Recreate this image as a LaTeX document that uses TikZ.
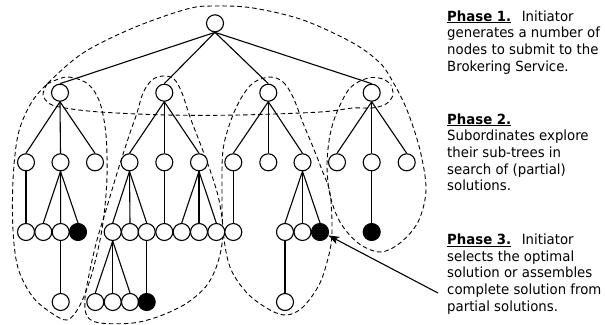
\documentclass[tikz,border=0pt]{standalone}
\usepackage{fontspec}
\setmainfont{DejaVu Sans}[FakeStretch=0.95]
\usetikzlibrary{arrows.meta}
\begin{document}
\begin{tikzpicture}[x=1pt,y=-1pt,
  wn/.style={circle,draw,fill=white,line width=1.1pt,minimum size=17pt,inner sep=0pt},
  bn/.style={wn,fill=black},
  ln/.style={line width=1.1pt},
  region/.style={line width=0.9pt,dash pattern=on 4.5pt off 3pt},
  txt/.style={anchor=base west,inner sep=0pt,font=\fontsize{14}{16.7}\selectfont},
  ptr/.style={line width=1.1pt,-{Stealth[length=11pt,width=8pt,inset=3pt]}}]
\useasboundingbox (0,0) rectangle (605,324);

% ---------- dashed regions ----------
% L1a region + big Phase-1 arc + L1d region
\draw[region] plot[smooth,tension=0.55] coordinates {
  (47,84) (67,77) (88,84) (100,103) (106,135) (107,177) (104,215) (99,245)
  (90,280) (79,307) (67,320) (50,312) (32,296) (18,268) (13,230) (13,180)
  (18,135) (30,105) (47,84) (83,53) (133,28) (187,9) (215,6) (253,8)
  (303,20) (353,43) (380,63) (393,82) (407,110) (420,150) (426,190)
  (418,222) (400,243) (380,252) (358,243) (340,222) (330,195) (327,165)
  (330,135) (337,112) (350,88) (368,78) (383,79) (391,85)};
% Phase-1 bottom boundary
\draw[region] plot[smooth,tension=0.55] coordinates {
  (47,84) (43,95) (50,104) (65,108) (100,112) (167,115) (240,115)
  (320,112) (353,108) (372,108) (386,104) (393,95) (391,85)};
% L1b region
\draw[region] plot[smooth cycle,tension=0.55] coordinates {
  (163,76) (174,79) (182,93) (190,117) (200,143) (210,170) (219,200)
  (223,233) (218,262) (207,285) (187,303) (160,316) (133,323) (100,323)
  (87,316) (85,298) (90,270) (97,240) (106,210) (118,170) (130,133)
  (137,113) (143,93) (152,80)};
% L1c region
\draw[region] plot[smooth cycle,tension=0.55] coordinates {
  (270,77) (283,82) (293,97) (303,123) (313,147) (322,170) (330,193)
  (332,227) (330,250) (320,283) (303,307) (287,315) (270,310) (247,293)
  (230,267) (223,230) (222,187) (223,150) (230,123) (240,100) (253,83)};

% ---------- tree nodes ----------
\node[wn] (r) at (215,23.3) {};
\node[wn] (A) at (60,92.7) {};
\node[wn] (B) at (164.3,92.7) {};
\node[wn] (C) at (268.3,92.7) {};
\node[wn] (D) at (371.7,92.7) {};
\foreach \n/\x in {A1/26,A2/60.5,A3/95,B1/129.5,B2/164.3,B3/199,
                   C1/233.3,C2/268.3,C3/302.5,D1/337,D2/371.7,D3/406.7}
  \node[wn] (\n) at (\x,162.3) {};
\foreach \n/\x in {A11/26,A21/43.3,A22/60.7,B11/112.7,B12/130,B13/146.7,
                   B21/164.3,B31/181.7,B32/199,B33/216.3,C11/233.3,
                   C31/285,C32/302.5}
  \node[wn] (\n) at (\x,232) {};
\node[bn] (A23) at (78,232) {};
\node[bn] (C33) at (320,232) {};
\node[bn] (D21) at (371.7,232) {};
\foreach \n/\x in {A221/60.7,B111/95.3,B112/112.7,B113/130,C311/285}
  \node[wn] (\n) at (\x,302) {};
\node[bn] (B131) at (146.7,302) {};

% ---------- tree edges ----------
\foreach \p/\c in {r/A,r/B,r/C,r/D,
  A/A1,A/A2,A/A3,B/B1,B/B2,B/B3,C/C1,C/C2,C/C3,D/D1,D/D2,D/D3,
  A1/A11,A2/A21,A2/A22,A2/A23,B1/B11,B1/B12,B1/B13,B2/B21,
  B3/B31,B3/B32,B3/B33,C1/C11,C3/C31,C3/C32,C3/C33,D2/D21,
  A22/A221,B11/B111,B11/B112,B11/B113,B13/B131,C31/C311}
  \draw[ln] (\p.south) -- (\c.north);

% ---------- pointer ----------
\coordinate (tail) at (438,293);
\draw[ptr] (tail) -- (C33.-22);

% ---------- text ----------
\node[txt] (t11) at (447,21) {\underline{\textbf{Phase 1.}}\hspace{0.75em}Initiator};
\node[txt] (t12) at (447,37.7) {generates a number of};
\node[txt] (t13) at (447,54.4) {nodes to submit to the};
\node[txt] (t14) at (447,71.1) {Brokering Service.};

\node[txt] (t21) at (447,124) {\underline{\textbf{Phase 2.}}};
\node[txt] (t22) at (447,140.7) {Subordinates explore};
\node[txt] (t23) at (447,157.4) {their sub-trees in};
\node[txt] (t24) at (447,174.1) {search of (partial)};
\node[txt] (t25) at (447,190.8) {solutions.};

\node[txt] (t31) at (447,244.5) {\underline{\textbf{Phase 3.}}\hspace{0.75em}Initiator};
\node[txt] (t32) at (447,261.2) {selects the optimal};
\node[txt] (t33) at (447,277.9) {solution or assembles};
\node[txt] (t34) at (447,294.6) {complete solution from};
\node[txt] (t35) at (447,311.3) {partial solutions.};
\end{tikzpicture}
\end{document}
